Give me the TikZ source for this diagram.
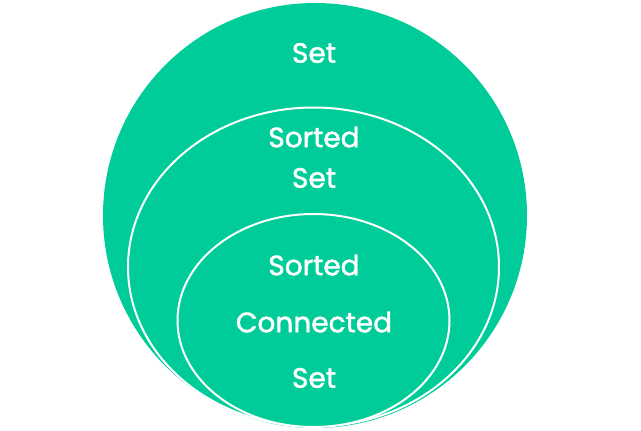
\documentclass[tikz,border=0pt]{standalone}
\usepackage{fontspec}
\newfontfamily\labelfont{Poppins}[FakeBold=1.6]
\usepackage{tikz}
\usetikzlibrary{shapes.geometric}
\definecolor{setgreen}{RGB}{0,204,153}
\tikzset{
  region/.style={ellipse, fill=setgreen, inner sep=0pt},
  rim/.style={draw=white, line width=2pt},
  label/.style={text=white, font=\labelfont\fontsize{28}{30}\selectfont}
}

\begin{document}
\begin{tikzpicture}[x=1pt,y=-1pt]
    \useasboundingbox (0,0) rectangle (641,431);
    \node[region, minimum width=424pt, minimum height=425pt] (S) at (315,215.5) {};
    \node[region, rim, minimum width=371pt, minimum height=319pt] (SS) at (313.5,267) {};
    \node[region, rim, minimum width=272pt, minimum height=213pt] (SCS) at (313.5,320.5) {};

    \node[label] (tS) at (314,53) {Set};
    \node[label] (tSS1) at (314,137) {Sorted};
    \node[label] (tSS2) at (314,178) {Set};
    \node[label] (tSCS1) at (314,265) {Sorted};
    \node[label] (tSCS2) at (314,322) {Connected};
    \node[label] (tSCS3) at (314,378) {Set};
  \end{tikzpicture}
\end{document}
